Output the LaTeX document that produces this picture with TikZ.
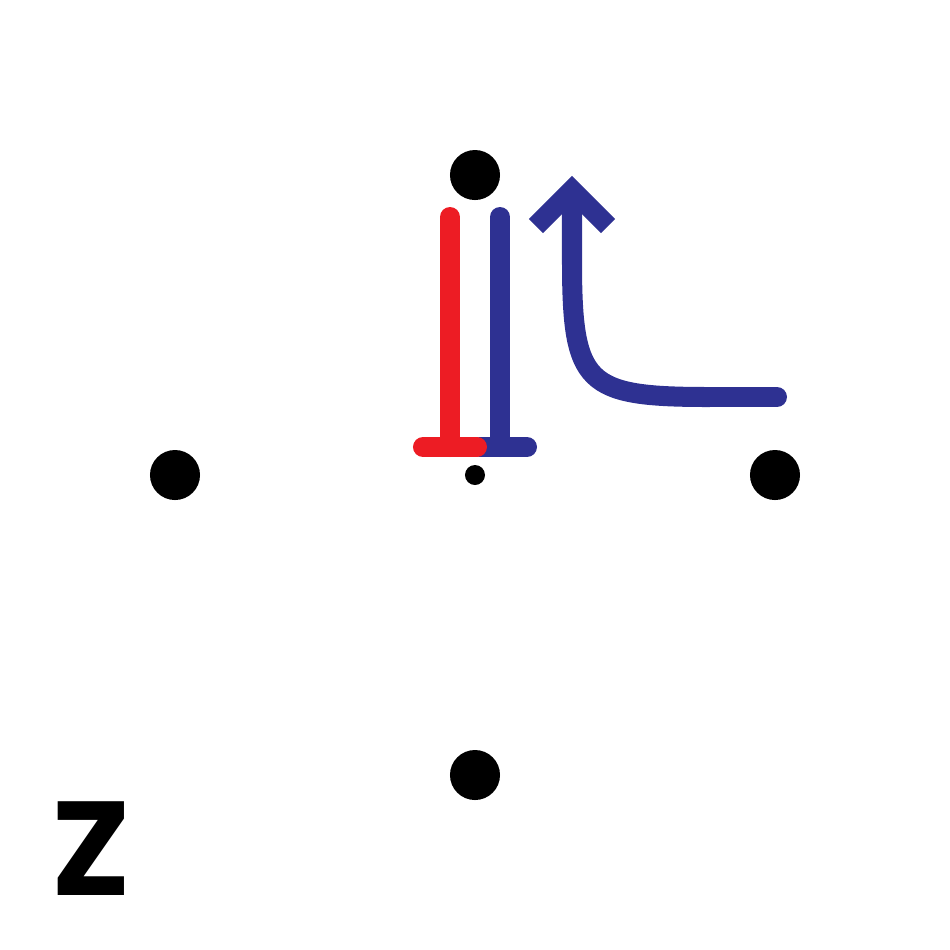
\documentclass[tikz,border=0pt]{standalone}
\usepackage{xcolor}
\usepackage{fontspec}
\usepackage{tikz}
\usetikzlibrary{arrows.meta, positioning, calc}
\newfontfamily\zfont{Poppins}
\definecolor{poleblue}{HTML}{2E3192}
\definecolor{polered}{HTML}{ED1C24}

\begin{document}
\begin{tikzpicture}[
  x=0.01cm, y=-0.01cm,
  bigdot/.style={circle, fill=black, inner sep=0pt, minimum size=0.5cm},
  smalldot/.style={circle, fill=black, inner sep=0pt, minimum size=0.2cm},
  bar/.style={line width=0.2cm, line cap=round},
  barb/.style={line width=0.2cm, line cap=butt, line join=miter, miter limit=10}
]
\useasboundingbox (0,0) rectangle (950,950);
% dots
\node[bigdot] (n) at (475,175) {};
\node[bigdot] (w) at (175,475) {};
\node[bigdot] (e) at (775,475) {};
\node[bigdot] (s) at (475,775) {};
\node[smalldot] (c) at (475,475) {};
% blue T
\draw[bar, poleblue] (500,217) -- (500,447);
\draw[bar, poleblue] (480,447) -- (527,447);
% red T
\draw[bar, polered] (450,217) -- (450,447);
\draw[bar, polered] (423,447) -- (477,447);
% curved arrow
\coordinate (tip) at (572,190);
\coordinate (tail) at (777,397);
\draw[bar, poleblue, line cap=butt] (tip) -- (572,260) .. controls (572,385) and (585,397) .. (710,397);
\draw[bar, poleblue] (710,397) -- (tail);
\draw[barb, poleblue] (536,226) -- (tip) -- (608,226);
% label
\node[font=\zfont\bfseries\fontsize{38}{38}\selectfont, anchor=base, inner sep=0pt] (z) at (91,895) {Z};
\end{tikzpicture}
\end{document}
